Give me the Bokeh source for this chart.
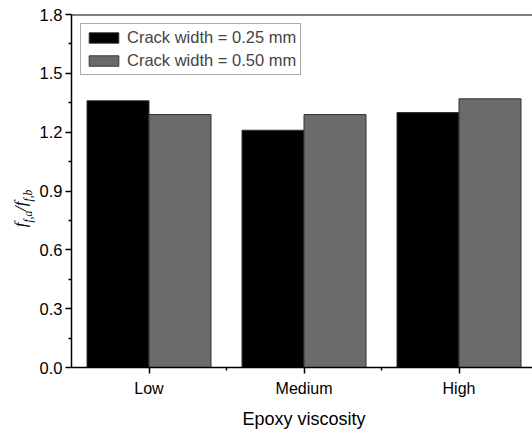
import math
from bokeh.plotting import figure
from bokeh.layouts import row
from bokeh.models import (ColumnDataSource, FixedTicker, Span, Label, Legend,
                          LegendItem, Range1d, PrintfTickFormatter)
from bokeh.embed import file_html
from bokeh.resources import INLINE

# ---- data ----
categories = ["Low", "Medium", "High"]
series_names = ["Crack width = 0.25 mm", "Crack width = 0.50 mm"]
crack_025 = [1.36, 1.21, 1.30]
crack_050 = [1.29, 1.29, 1.37]
y_ticks = [0.0, 0.3, 0.6, 0.9, 1.2, 1.5, 1.8]
x_title = "Epoxy viscosity"

# ---- derived positions ----
pos = [i + 1 for i in range(len(categories))]
bar_w = 0.4
src = ColumnDataSource(dict(
    xa=[p - bar_w / 2 for p in pos],
    xb=[p + bar_w / 2 for p in pos],
    a=crack_025,
    b=crack_050,
))

H = 431
PAGE_W = 532
TW = 35              # width of the strip holding the y-axis title
EXTRA = 4            # frame runs past the window edge (right side is clipped)
W = PAGE_W - TW + EXTRA
TOP, BOTTOM = 14, 62

p = figure(width=W, height=H, output_backend="svg", toolbar_location=None,
           x_range=Range1d(0.5, 3.5), y_range=Range1d(0, y_ticks[-1]),
           min_border_left=71 - TW, min_border_right=0, min_border_top=TOP,
           min_border_bottom=BOTTOM)
p.outline_line_color = None
p.grid.visible = False
p.background_fill_color = "white"
p.border_fill_color = "white"

edge = "#333333"
r1 = p.vbar(x="xa", top="a", width=bar_w, bottom=0, source=src, fill_color="black",
            line_color=edge, line_width=1)
r2 = p.vbar(x="xb", top="b", width=bar_w, bottom=0, source=src, fill_color="#6b6b6b",
            line_color=edge, line_width=1)

# x axis
xa = p.xaxis[0]
xa.ticker = FixedTicker(ticks=pos, minor_ticks=[(pos[i] + pos[i + 1]) / 2 for i in range(len(pos) - 1)])
xa.major_label_overrides = {pos[i]: categories[i] for i in range(len(pos))}
xa.axis_label = x_title
xa.axis_label_text_font = "Liberation Sans"
xa.axis_label_text_font_style = "normal"
xa.axis_label_text_font_size = "18px"
xa.axis_label_standoff = 9
xa.major_label_text_font = "Liberation Sans"
xa.major_label_text_font_size = "16px"
xa.major_label_standoff = 6

# y axis
ya = p.yaxis[0]
ya.ticker = FixedTicker(ticks=y_ticks, minor_ticks=[(y_ticks[i] + y_ticks[i + 1]) / 2 for i in range(len(y_ticks) - 1)])
ya.formatter = PrintfTickFormatter(format="%.1f")
ya.major_label_text_font = "Liberation Sans"
ya.major_label_text_font_size = "16.5px"
ya.major_label_standoff = 3

for ax in (xa, ya):
    ax.axis_line_width = 1.5
    ax.axis_line_color = "black"
    ax.major_tick_in = 0
    ax.major_tick_out = 6
    ax.minor_tick_in = 0
    ax.minor_tick_out = 3
    ax.major_tick_line_width = 1.5
    ax.minor_tick_line_width = 1.5
    ax.major_label_text_color = "black"
    ax.axis_label_text_color = "black"

# top frame line (the reference has no right border)
p.add_layout(Span(location=y_ticks[-1], dimension="width", line_color="black",
                  line_width=2))

# legend
legend = Legend(items=[LegendItem(label=series_names[0], renderers=[r1]),
                       LegendItem(label=series_names[1], renderers=[r2])],
                location="top_left", margin=9, padding=4, spacing=4,
                glyph_width=37, glyph_height=13, label_height=16,
                label_standoff=5, label_text_font="Liberation Sans",
                label_text_font_size="16.5px", border_line_color="#555555",
                border_line_width=1)
p.add_layout(legend)

# ---- y axis title strip: f_{f,a}/f_{f,b} built from pieces (rotated, reading upwards)
# same vertical borders as the main plot; ranges map 1:1 to page pixels (y flipped)
t = figure(width=TW, height=H, output_backend="svg", toolbar_location=None,
           x_axis_location=None, y_axis_location=None,
           x_range=Range1d(0, TW), y_range=Range1d(H - BOTTOM, TOP),
           min_border_left=0, min_border_right=0,
           min_border_top=TOP, min_border_bottom=BOTTOM)
t.outline_line_color = None
t.grid.visible = False
t.background_fill_color = "white"
t.border_fill_color = "white"

main_fs, sub_fs = 17, 11.5
pieces = [("f", main_fs, 0, 4.7), ("f,a", sub_fs, 7.5, 11.8), ("/", main_fs, 0, 4.7),
          ("f", main_fs, 0, 4.7), ("f,b", sub_fs, 7.5, 11.8)]
base_x = 20      # page x of the main baseline
start_y = 228    # page y where the title starts (bottom end)
cur = start_y
for txt, fs, dx, adv in pieces:
    t.add_layout(Label(x=base_x + dx, y=cur,
                       text=txt, angle=math.pi / 2, text_font="Liberation Serif",
                       text_font_style="italic", text_font_size=f"{fs}px",
                       text_align="left", text_baseline="alphabetic",
                       text_color="black"))
    cur -= adv

layout = row(t, p, spacing=0, width=PAGE_W, height=H, sizing_mode="fixed",
             styles={"overflow": "hidden"})
open("out.html", "w").write(file_html(layout, INLINE))
